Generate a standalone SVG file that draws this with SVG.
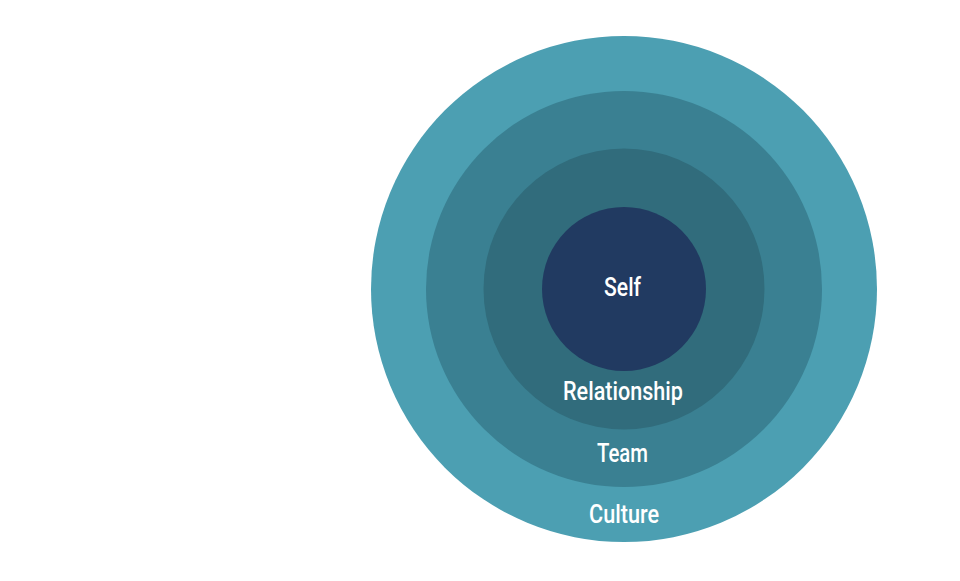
<svg xmlns="http://www.w3.org/2000/svg" width="960" height="581" viewBox="0 0 960 581">
<style>
.lbl{font-family:Roboto,"Liberation Sans",sans-serif;font-size:25.5px;fill:#ffffff;text-anchor:middle;font-weight:500}
</style>
<rect width="960" height="581" fill="#ffffff"/>
<g id="culture">
<circle cx="624" cy="289" r="253" fill="#4C9FB2"/>
<text class="lbl" x="624" y="523" textLength="70" lengthAdjust="spacingAndGlyphs">Culture</text>
</g>
<g id="team">
<circle cx="624" cy="289" r="198" fill="#3A8092"/>
<text class="lbl" x="622.5" y="462" textLength="51" lengthAdjust="spacingAndGlyphs">Team</text>
</g>
<g id="relationship">
<circle cx="624" cy="289" r="140.5" fill="#316C7C"/>
<text class="lbl" x="623" y="400" textLength="120" lengthAdjust="spacingAndGlyphs">Relationship</text>
</g>
<g id="self">
<circle cx="624" cy="289" r="82" fill="#213A61"/>
<text class="lbl" x="622.5" y="296" textLength="37" lengthAdjust="spacingAndGlyphs">Self</text>
</g>
<g id="connectors"/>
</svg>
